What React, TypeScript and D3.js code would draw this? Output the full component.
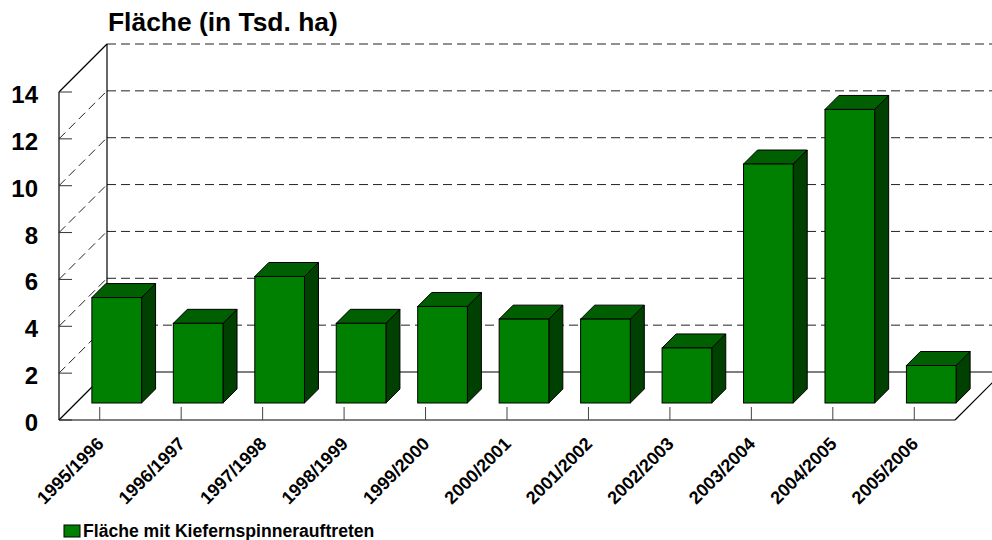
import { useEffect } from "react";
import * as d3 from "d3";

// seasons on the x axis
const categories = [
  "1995/1996",
  "1996/1997",
  "1997/1998",
  "1998/1999",
  "1999/2000",
  "2000/2001",
  "2001/2002",
  "2002/2003",
  "2003/2004",
  "2004/2005",
  "2005/2006",
];

// area with pine moth occurrence, thousand ha
const values = [4.5, 3.4, 5.4, 3.4, 4.12, 3.58, 3.58, 2.35, 10.2, 12.53, 1.6];

const yTicks = [0, 2, 4, 6, 8, 10, 12, 14];

const title = "Fläche (in Tsd. ha)";
const seriesName = "Fläche mit Kiefernspinnerauftreten";

const W = 992;
const H = 540;
const font = "'Liberation Sans', Arial, sans-serif";

// pseudo-3D box
const left = 59;
const right = 955;
const floorY = 420;
const topY = 92;
const depth = 48; // wall depth in px (x and y shift)
const barZ = 17; // bar front face depth
const barD = 14; // bar thickness
const barFrac = 0.61;

const App = () => {
  useEffect(() => {
    document.body.style.margin = "0";
  }, []);

  const x = d3.scaleBand<string>().domain(categories).range([left, right]);
  const y = d3.scaleLinear().domain([0, 14]).range([floorY, topY]);
  const bw = x.bandwidth() * barFrac;
  const backRight = right + depth;

  const pts = (p: [number, number][]) => p.map((d) => d.join(",")).join(" ");

  return (
    <svg
      width={W}
      height={H}
      style={{ position: "absolute", left: 0, top: 0, background: "#fff" }}
      fontFamily={font}
      fontWeight="bold"
    >
      {/* title */}
      <text x={108} y={31} fontSize={26.4}>
        {title}
      </text>

      {/* gridlines on back wall and side wall */}
      {yTicks
        .filter((t) => t > 0)
        .map((t) => (
          <g key={t} stroke="#222" strokeWidth={1} strokeDasharray="9,5" fill="none">
            <line x1={left + depth} x2={backRight} y1={y(t) - depth} y2={y(t) - depth} />
            {t < 14 && (
              <line x1={left} y1={y(t)} x2={left + depth} y2={y(t) - depth} />
            )}
          </g>
        ))}

      {/* walls and floor outline */}
      <g stroke="#000" strokeWidth={1.2} fill="none">
        <line x1={left} x2={left} y1={topY} y2={floorY} />
        <line x1={left + depth} x2={left + depth} y1={topY - depth} y2={floorY - depth} />
        <line x1={left} y1={topY} x2={left + depth} y2={topY - depth} />
        <line x1={left} y1={floorY} x2={left + depth} y2={floorY - depth} />
        <line x1={left} x2={right} y1={floorY} y2={floorY} />
        <line x1={left + depth} x2={backRight} y1={floorY - depth} y2={floorY - depth} />
        <line x1={right} y1={floorY} x2={backRight} y2={floorY - depth} />
      </g>

      {/* y ticks and labels */}
      {yTicks.map((t) => (
        <g key={"yt" + t}>
          <line x1={left} x2={left + 13} y1={y(t)} y2={y(t)} stroke="#333" />
          <text x={38} y={y(t) + 11} fontSize={24} textAnchor="end">
            {t}
          </text>
        </g>
      ))}

      {/* x ticks and labels */}
      {categories.map((c) => {
        const cx = (x(c) as number) + x.bandwidth() / 2;
        return (
          <g key={"xt" + c}>
            <line x1={cx} x2={cx} y1={floorY - 13} y2={floorY} stroke="#444" />
            <text
              transform={`translate(${cx + 5},${floorY + 25}) rotate(-45)`}
              fontSize={18}
              textAnchor="end"
            >
              {c}
            </text>
          </g>
        );
      })}

      {/* bars */}
      {categories.map((c, i) => {
        const cx = (x(c) as number) + x.bandwidth() / 2;
        const x0 = cx - bw / 2 + barZ;
        const x1 = x0 + bw;
        const yT = y(values[i]) - barZ;
        const yB = floorY - barZ;
        return (
          <g key={"b" + c} stroke="#000" strokeWidth={1}>
            <polygon
              points={pts([
                [x1, yT],
                [x1 + barD, yT - barD],
                [x1 + barD, yB - barD],
                [x1, yB],
              ])}
              fill="#004000"
            />
            <polygon
              points={pts([
                [x0, yT],
                [x1, yT],
                [x1 + barD, yT - barD],
                [x0 + barD, yT - barD],
              ])}
              fill="#005f00"
            />
            <rect x={x0} y={yT} width={bw} height={yB - yT} fill="#008000" />
          </g>
        );
      })}

      {/* legend */}
      <rect x={64} y={525} width={16} height={12} fill="#008000" stroke="#000" />
      <text x={83} y={537} fontSize={17.6}>
        {seriesName}
      </text>
    </svg>
  );
};

export default App;
